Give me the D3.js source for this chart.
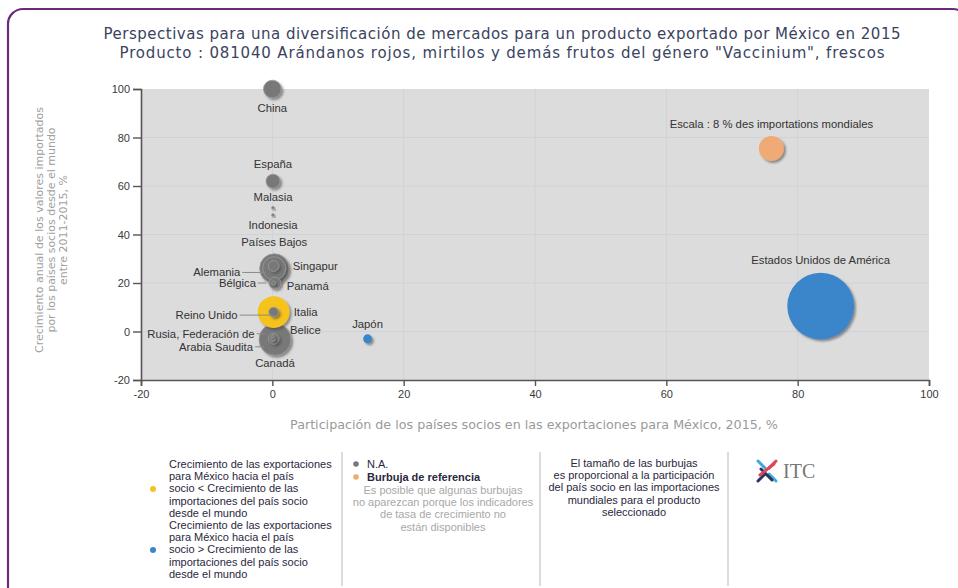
<!DOCTYPE html>
<html>
<head>
<meta charset="utf-8">
<script src="https://cdn.jsdelivr.net/npm/d3@7"></script>
<style>
  body { margin: 0; background: #fff; }
  svg { display: block; }
</style>
</head>
<body>
<div id="scatter"></div>
<script>
// Data
// ==========================================
var countries = ["Estados Unidos de América", "Canadá", "Reino Unido", "Países Bajos", "Alemania",
    "China", "España", "Bélgica", "Singapur", "Rusia, Federación de", "Italia", "Japón",
    "Arabia Saudita", "Panamá", "Malasia", "Indonesia", "Belice"];
// participación de los países socios en las exportaciones de México, 2015, %
var exportShare = [83.5, 0.4, 0.2, 0.3, 0.3, 0.0, 0.1, 0.4, 0.2, 0.2, 0.2, 14.5, 0.1, 0.2, 0.1, 0.1, 0.1];
// crecimiento anual de las importaciones 2011-2015, %
var importGrowth = [10.5, -3.3, 8, 26, 26, 100, 62, 20, 27, -3, 8, -3, -3, 20, 51, 48, -2];
// participación en las importaciones mundiales, % (tamaño de la burbuja)
var worldShare = [57, 13, 13, 11, 7, 4, 2.5, 1.8, 1.5, 1.5, 1.2, 1, 0.3, 0.2, 0.1, 0.1, 0.1];
// grupo: "lower" amarillo, "higher" azul, "na" gris
var groups = ["higher", "na", "lower", "na", "na", "na", "na", "na", "na", "na", "na", "higher",
    "na", "na", "na", "na", "na"];

// reference bubble
var refLabel = "Escala : 8 % des importations mondiales";
var refPoint = [76, 75.5, 8];

var xTicks = [-20, 0, 20, 40, 60, 80, 100];
var yTicks = [-20, 0, 20, 40, 60, 80, 100];

var titleLines = ["Perspectivas para una diversificación de mercados para un producto exportado por México en 2015",
    "Producto : 081040 Arándanos rojos, mirtilos y demás frutos del género \"Vaccinium\", frescos"];
var yTitleLines = ["Crecimiento anual de los valores importados", "por los países socios desde el mundo", "entre 2011-2015, %"];
var xTitle = "Participación de los países socios en las exportaciones para México, 2015, %";

var legendLower = ["Crecimiento de las exportaciones", "para México hacia el país", "socio < Crecimiento de las",
    "importaciones del país socio", "desde el mundo"];
var legendHigher = ["Crecimiento de las exportaciones", "para México hacia el país", "socio > Crecimiento de las",
    "importaciones del país socio", "desde el mundo"];
var legendNote = ["Es posible que algunas burbujas", "no aparezcan porque los indicadores", "de tasa de crecimiento no", "están disponibles"];
var legendSize = ["El tamaño de las burbujas", "es proporcional a la participación", "del país socio en las importaciones",
    "mundiales para el producto", "seleccionado"];

var colors = { lower: "#f6c21c", higher: "#3a85cb", na: "#787878", ref: "#efaa74" };

// label placement around each bubble (dx, dy, anchor, leader line)
var labelPos = {
    "China": [0, 19, "middle"],
    "España": [0, -17, "middle"],
    "Malasia": [0, -11, "middle"],
    "Indonesia": [0, 10, "middle"],
    "Países Bajos": [0, -26, "middle"],
    "Alemania": [-34, 4, "end", true],
    "Singapur": [19, 0, "start"],
    "Bélgica": [-19, 0, "end", true],
    "Panamá": [13, 3, "start"],
    "Reino Unido": [-36, 3, "end", true],
    "Italia": [20, 0, "start"],
    "Belice": [17, -6, "start"],
    "Rusia, Federación de": [-19, -5, "end", true],
    "Arabia Saudita": [-20, 8, "end", true],
    "Canadá": [0, 24, "middle"],
    "Japón": [0, -15, "middle"],
    "Estados Unidos de América": [0, -46, "middle"]
};

var data = countries.map(function(c, i) {
    return { name: c, x: exportShare[i], y: importGrowth[i], size: worldShare[i], group: groups[i] };
});

// Set up the chart
// ==========================================
var svgWidth = 958;
var svgHeight = 588;

var svg = d3.select("#scatter")
    .append("svg")
    .attr("width", svgWidth)
    .attr("height", svgHeight);

var defs = svg.append("defs");
var shadow = defs.append("filter").attr("id", "shadow")
    .attr("x", "-30%").attr("y", "-30%").attr("width", "170%").attr("height", "170%");
shadow.append("feDropShadow")
    .attr("dx", 2).attr("dy", 2).attr("stdDeviation", 1.2)
    .attr("flood-color", "#444").attr("flood-opacity", 0.55);

// purple frame
svg.append("rect")
    .attr("x", 8).attr("y", 9)
    .attr("width", 960).attr("height", 600)
    .attr("rx", 15)
    .attr("fill", "none")
    .attr("stroke", "#6a2c78")
    .attr("stroke-width", 2.2);

// title
var titleWidths = [797, 765];
svg.append("g").selectAll("text")
    .data(titleLines)
    .enter()
    .append("text")
    .attr("x", 502)
    .attr("y", (d, i) => 39 + i * 19)
    .attr("text-anchor", "middle")
    .attr("textLength", (d, i) => titleWidths[i])
    .attr("lengthAdjust", "spacing")
    .style("font-family", "DejaVu Sans, sans-serif")
    .style("font-size", "15px")
    .attr("fill", "#3a4360")
    .text(d => d);

// Scales
// ==========================================
var xScale = d3.scaleLinear().domain([-20, 100]).range([141, 929]);
var yScale = d3.scaleLinear().domain([-20, 100]).range([380, 89]);
var rScale = d3.scaleSqrt().domain([0, 8]).range([0, 12.5]);

// plot background
svg.append("rect")
    .attr("x", xScale(-20)).attr("y", yScale(100))
    .attr("width", xScale(100) - xScale(-20))
    .attr("height", yScale(-20) - yScale(100))
    .attr("fill", "#dcdcdc");

// grid lines
svg.append("g").selectAll("line")
    .data(xTicks.slice(1, -1))
    .enter()
    .append("line")
    .attr("x1", d => xScale(d)).attr("x2", d => xScale(d))
    .attr("y1", yScale(100)).attr("y2", yScale(-20))
    .attr("stroke", "#ced3da");

svg.append("g").selectAll("line")
    .data(yTicks.slice(1, -1))
    .enter()
    .append("line")
    .attr("x1", xScale(-20)).attr("x2", xScale(100))
    .attr("y1", d => yScale(d)).attr("y2", d => yScale(d))
    .attr("stroke", "#ced3da");

// Axes
// ==========================================
var bottomAxis = d3.axisBottom(xScale).tickValues(xTicks).tickFormat(d => String(d)).tickSize(6).tickPadding(4);
var leftAxis = d3.axisLeft(yScale).tickValues(yTicks).tickFormat(d => String(d)).tickSize(8).tickPadding(3);

var xAxisG = svg.append("g")
    .attr("transform", `translate(0, ${yScale(-20)})`)
    .call(bottomAxis);

var yAxisG = svg.append("g")
    .attr("transform", `translate(${xScale(-20)}, 0)`)
    .call(leftAxis);

[xAxisG, yAxisG].forEach(function(g) {
    g.select(".domain").attr("stroke", "#555").attr("stroke-width", 1.6);
    g.selectAll(".tick line").attr("stroke", "#555").attr("stroke-width", 1.4);
    g.selectAll(".tick text")
        .attr("fill", "#3a3a3a")
        .style("font-family", "Liberation Sans, Arial, sans-serif")
        .style("font-size", "11px");
});

// axis titles
svg.append("g")
    .attr("transform", "translate(43, 230) rotate(-90)")
    .selectAll("text")
    .data(yTitleLines)
    .enter()
    .append("text")
    .attr("x", 0)
    .attr("y", (d, i) => i * 12)
    .attr("text-anchor", "middle")
    .style("font-family", "DejaVu Sans, sans-serif")
    .style("font-size", "11px")
    .attr("fill", "#a0a0a0")
    .text(d => d);

svg.append("text")
    .attr("x", 534)
    .attr("y", 429)
    .attr("text-anchor", "middle")
    .style("font-family", "DejaVu Sans, sans-serif")
    .style("font-size", "12.7px")
    .attr("fill", "#9a9a9a")
    .text(xTitle);

// Bubbles
// ==========================================
var bubbleGroup = svg.append("g");

// reference bubble
bubbleGroup.append("circle")
    .attr("cx", xScale(refPoint[0]))
    .attr("cy", yScale(refPoint[1]))
    .attr("r", rScale(refPoint[2]))
    .attr("fill", colors.ref)
    .attr("filter", "url(#shadow)");

bubbleGroup.append("text")
    .attr("x", xScale(refPoint[0]))
    .attr("y", yScale(refPoint[1]) - 20)
    .attr("text-anchor", "middle")
    .style("font-family", "Liberation Sans, Arial, sans-serif")
    .style("font-size", "11.3px")
    .attr("fill", "#333")
    .text(refLabel);

// draw big bubbles first so small ones stay on top
var sorted = data.slice().sort((a, b) => b.size - a.size);

bubbleGroup.selectAll(".bubble")
    .data(sorted)
    .enter()
    .append("circle")
    .attr("class", "bubble")
    .attr("cx", d => xScale(d.x))
    .attr("cy", d => yScale(d.y))
    .attr("r", d => rScale(d.size))
    .attr("fill", d => colors[d.group])
    .attr("stroke", d => d.group == "na" ? "#9a9a9a" : "none")
    .attr("stroke-width", 0.8)
    .attr("filter", "url(#shadow)");

// leader lines
var labelGroup = svg.append("g");
labelGroup.selectAll("line")
    .data(data.filter(d => labelPos[d.name][3]))
    .enter()
    .append("line")
    .attr("x1", d => xScale(d.x) + labelPos[d.name][0] + 2)
    .attr("x2", d => xScale(d.x) - (d.name == "Reino Unido" ? 0 : 9))
    .attr("y1", d => yScale(d.y) + labelPos[d.name][1])
    .attr("y2", d => yScale(d.y) + labelPos[d.name][1])
    .attr("stroke", "#8a8a8a")
    .attr("stroke-width", 1);

// country labels
labelGroup.selectAll("text")
    .data(data)
    .enter()
    .append("text")
    .attr("x", d => xScale(d.x) + labelPos[d.name][0])
    .attr("y", d => yScale(d.y) + labelPos[d.name][1])
    .attr("dy", "0.35em")
    .attr("text-anchor", d => labelPos[d.name][2])
    .style("font-family", "Liberation Sans, Arial, sans-serif")
    .style("font-size", "11.3px")
    .attr("fill", "#333")
    .text(d => d.name);

// Legend
// ==========================================
var legend = svg.append("g")
    .style("font-family", "Liberation Sans, Arial, sans-serif")
    .style("font-size", "11px");

// separators
legend.selectAll("line")
    .data([342, 540, 728])
    .enter()
    .append("line")
    .attr("x1", d => d).attr("x2", d => d)
    .attr("y1", 452).attr("y2", 586)
    .attr("stroke", "#b8b8b8");

function textBlock(lines, x, y0, anchor, color, weight) {
    legend.append("g").selectAll("text")
        .data(lines)
        .enter()
        .append("text")
        .attr("x", x)
        .attr("y", (d, i) => y0 + i * 12.2)
        .attr("text-anchor", anchor)
        .attr("fill", color)
        .style("font-weight", weight || "normal")
        .text(d => d);
}

textBlock(legendLower, 169, 468, "start", "#2a2840");
textBlock(legendHigher, 169, 529, "start", "#2a2840");
legend.append("circle").attr("cx", 153).attr("cy", 489).attr("r", 3).attr("fill", colors.lower);
legend.append("circle").attr("cx", 153).attr("cy", 550).attr("r", 3).attr("fill", colors.higher);

legend.append("circle").attr("cx", 356).attr("cy", 464).attr("r", 2.8).attr("fill", colors.na);
legend.append("circle").attr("cx", 356).attr("cy", 477).attr("r", 2.8).attr("fill", colors.ref);
textBlock(["N.A."], 367, 468, "start", "#2a2840");
textBlock(["Burbuja de referencia"], 367, 481, "start", "#2a2840", "bold");
textBlock(legendNote, 443, 494, "middle", "#a8a8a8");

textBlock(legendSize, 634, 467, "middle", "#2a2840");

// ITC logo
var logo = svg.append("g").attr("transform", "translate(767, 471)");
[["#3fa8dc", -9, -10, -2, -3], ["#e2435b", 9, -10, 2, -3], ["#24385f", -9, 10, -2, 3], ["#3fa8dc", 9, 10, 2, 3],
 ["#24385f", -6, -2, 5, 9], ["#e2435b", -7, 4, 7, -7]].forEach(function(s) {
    logo.append("line")
        .attr("x1", s[1]).attr("y1", s[2]).attr("x2", s[3]).attr("y2", s[4])
        .attr("stroke", s[0]).attr("stroke-width", 3)
        .attr("stroke-linecap", "round");
});
svg.append("text")
    .attr("x", 783)
    .attr("y", 478)
    .style("font-family", "Liberation Serif, serif")
    .style("font-size", "20px")
    .attr("fill", "#777")
    .text("ITC");
</script>
</body>
</html>
